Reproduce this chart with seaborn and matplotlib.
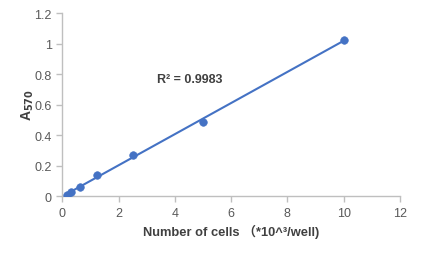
import numpy as np
import pandas as pd
import seaborn as sns
import matplotlib.pyplot as plt

cells = [0.156, 0.3125, 0.625, 1.25, 2.5, 5, 10]
absorbance = [0.01, 0.028, 0.057, 0.137, 0.27, 0.484, 1.025]
r2_label = "R² = 0.9983"

sns.set_style("white")
plt.rcParams['font.family'] = ['Liberation Sans', 'Noto Sans CJK SC', 'DejaVu Sans']

df = pd.DataFrame({"cells": cells, "a570": absorbance})
blue = "#4472C4"

fig = plt.figure(figsize=(4.21, 2.55), dpi=100)
ax = fig.add_axes([0.148, 0.227, 0.802, 0.718])

# linear trendline over the measured range
k, b = np.polyfit(df["cells"], df["a570"], 1)
xs = np.array([df["cells"].min(), df["cells"].max()])
sns.lineplot(x=xs, y=k * xs + b, color=blue, lw=1.5, ax=ax)
sns.scatterplot(df, x="cells", y="a570", color=blue, s=30, edgecolor=blue, zorder=3, ax=ax)

ax.set_xlim(0, 12)
ax.set_ylim(0, 1.2)
ax.set_xticks(range(0, 13, 2))
ax.set_yticks([0, 0.2, 0.4, 0.6, 0.8, 1.0, 1.2])
ax.set_yticklabels(["0", "0.2", "0.4", "0.6", "0.8", "1", "1.2"])

for s in ["top", "right"]:
    ax.spines[s].set_visible(False)
for s in ["left", "bottom"]:
    ax.spines[s].set_color("#bfbfbf")
    ax.spines[s].set_linewidth(1)
ax.tick_params(axis="both", direction="out", length=4, width=1, color="#bfbfbf",
               labelsize=9, labelcolor="#595959", bottom=True, left=True)

ax.set_xlabel("Number of cells （*10^³/well)", fontsize=9.3, fontweight="bold", color="#404040")
ax.set_ylabel("A$_{\\mathbf{570}}$", fontsize=10, fontweight="bold", color="#404040", labelpad=-1)
ax.text(3.35, 0.77, r2_label, fontsize=9, fontweight="bold", color="#404040", va="center")

fig.savefig("out.png", dpi=100)
